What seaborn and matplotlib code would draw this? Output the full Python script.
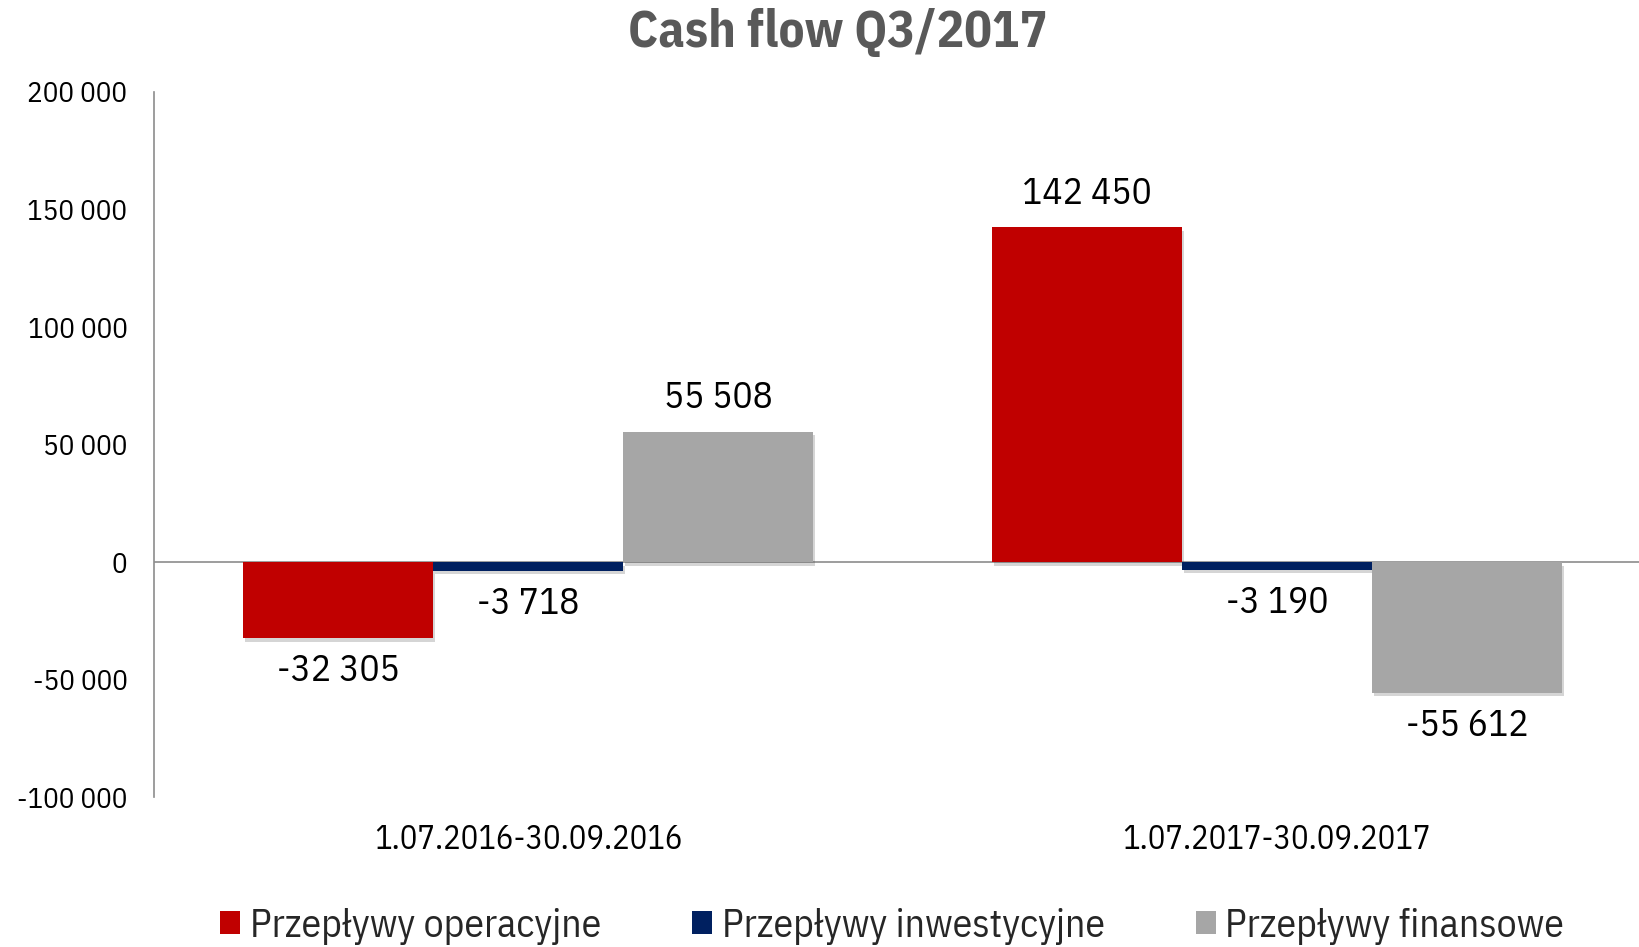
import pandas as pd
import matplotlib.pyplot as plt
import seaborn as sns
from matplotlib import patheffects as pe

# -------------------------------------------------------------
# dane
periods = ["1.07.2016-30.09.2016", "1.07.2017-30.09.2017"]
series = ["Przepływy operacyjne", "Przepływy inwestycyjne", "Przepływy finansowe"]
operacyjne = [-32305, 142450]
inwestycyjne = [-3718, -3190]
finansowe = [55508, -55612]
colors = ["#C00000", "#002060", "#A6A6A6"]
yticks = [-100000, -50000, 0, 50000, 100000, 150000, 200000]

df = pd.DataFrame({
    "okres": periods * 3,
    "seria": [s for s in series for _ in periods],
    "wartosc": operacyjne + inwestycyjne + finansowe,
})

sns.set_theme(style="white")
plt.rcParams["font.family"] = ["IBM Plex Sans Condensed", "DejaVu Sans"]

def fmt(v):
    return f"{v:,}".replace(",", " ")

# -------------------------------------------------------------
fig = plt.figure(figsize=(16.4, 9.47), dpi=100)
ax = fig.add_axes([0.0938, 0.158, 0.913, 0.745])

sns.barplot(data=df, x="okres", y="wartosc", hue="seria", hue_order=series,
            order=periods, palette=colors, width=0.762, saturation=1,
            edgecolor="none", ax=ax)

shadow = [pe.SimplePatchShadow(offset=(1.5, -2.5), alpha=0.22, shadow_rgbFace="#404040"),
          pe.Normal()]
for patch in ax.patches:
    patch.set_path_effects(shadow)

for cont in ax.containers:
    vals = [b.get_height() for b in cont]
    ax.bar_label(cont, labels=[fmt(int(round(v))) for v in vals],
                 padding=11, fontsize=27, color="black")

ax.axhline(0, color="#8C8C8C", lw=1.2, zorder=0.5)
ax.set_xlim(-0.5, 1.5)
ax.set_ylim(-100000, 200000)
ax.set_yticks(yticks)
ax.set_yticklabels([fmt(v) for v in yticks])
ax.tick_params(axis="y", length=0, pad=19, labelsize=21, labelcolor="black")
ax.tick_params(axis="x", length=0, pad=19, labelsize=23.5, labelcolor="black")
ax.set_xlabel("")
ax.set_ylabel("")
for side in ["top", "right", "bottom"]:
    ax.spines[side].set_visible(False)
ax.spines["left"].set_color("#8C8C8C")
ax.spines["left"].set_linewidth(1.2)

handles, labels = ax.get_legend_handles_labels()
ax.get_legend().remove()
for h in handles:
    h.set_path_effects([])
fig.legend(handles, labels, loc="center", bbox_to_anchor=(0.544, 0.022), ncol=3,
           frameon=False, fontsize=28.5, handlelength=0.5, handleheight=0.5,
           handletextpad=0.25, columnspacing=2.3)

fig.text(0.511, 0.966, "Cash flow Q3/2017", ha="center", va="center", fontsize=37,
         fontweight="bold", color="#595959")

fig.savefig("out.png", dpi=100)
